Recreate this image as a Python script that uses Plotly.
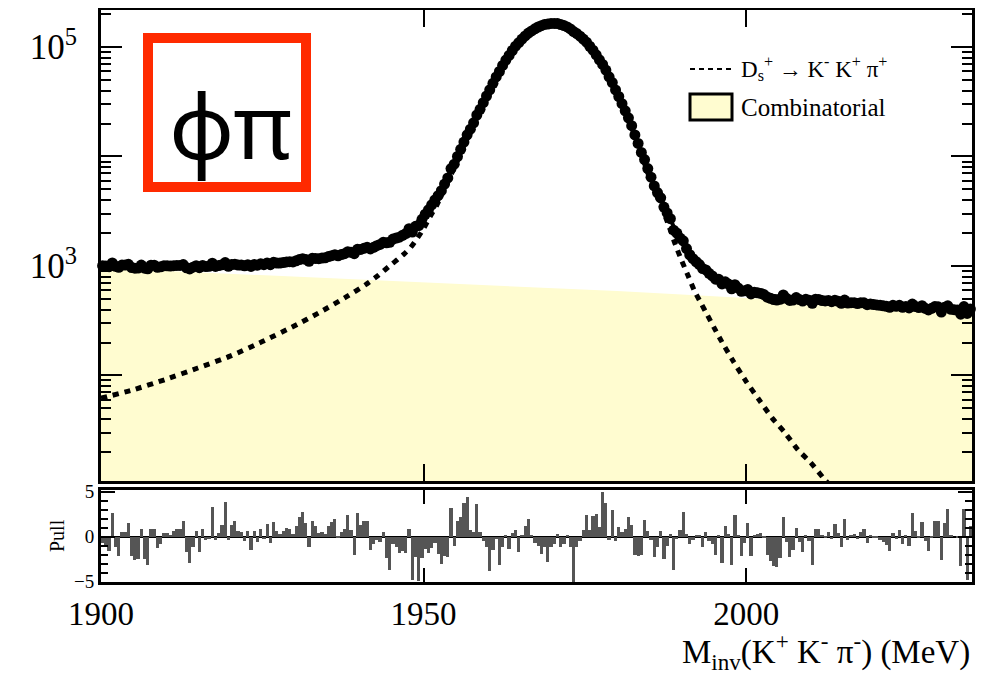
import plotly.graph_objects as go

# ---------------- data ----------------
bin_lo = 1900.0
bin_width = 0.5
n_bins = 270
bin_centers = [bin_lo + bin_width * (i + 0.5) for i in range(n_bins)]

data_counts = [
    1007, 1000, 986, 1066, 993, 972, 1020, 1019, 1036, 966,
    955, 956, 1019, 954, 941, 1016, 1016, 973, 982, 1004,
    1004, 999, 1006, 1012, 1012, 1029, 963, 940, 974, 1007,
    964, 1012, 989, 993, 1060, 991, 1008, 1025, 1075, 994,
    1029, 1038, 1019, 1020, 1003, 1027, 991, 1034, 1016, 1047,
    1028, 1065, 1028, 1079, 1063, 1064, 1075, 1090, 1094, 1090,
    1115, 1144, 1164, 1148, 1103, 1175, 1173, 1167, 1180, 1189,
    1220, 1243, 1266, 1237, 1270, 1294, 1349, 1333, 1296, 1420,
    1415, 1451, 1480, 1432, 1481, 1532, 1572, 1646, 1626, 1647,
    1760, 1798, 1832, 1908, 1976, 2189, 2039, 2305, 2340, 2668,
    2968, 3256, 3615, 4015, 4386, 4871, 5593, 6364, 7761, 8497,
    9999, 11625, 13535, 15783, 17743, 20281, 23930, 26982, 30992, 35683,
    40627, 46545, 53331, 59738,
    67890, 76030, 83690, 92920, 101720, 109440, 118170, 126230, 133930, 140270,
    146530, 152310, 156750, 160620, 162270, 164150, 164280, 163520, 160520, 157080,
    152640, 146140, 138230, 132660, 125520, 118140, 110800, 101620, 93500, 84830,
    76300, 69300, 61510, 53410, 47350, 40500, 35310, 30390, 26130, 22530,
    19130, 15750, 13160, 10890,
    9382, 7753, 6468, 5389, 4687, 4189, 3450, 3054, 2706, 2123,
    1997, 1799, 1696, 1441, 1266, 1166, 1093, 1031, 947, 920,
    857, 812, 758, 755, 686, 717, 684, 619, 674, 630,
    587, 593,
    609, 556, 576, 568, 561, 548, 520, 506, 494, 488,
    496, 543, 507, 484, 489, 514, 494, 478, 496, 487,
    456, 497, 494, 483, 479, 483, 472, 487, 475, 456,
    488, 459, 462, 462, 454, 461, 461, 443, 450, 444,
    441, 437, 433, 428, 419, 437, 428, 437, 419, 427,
    414, 449, 426, 417, 434, 410, 397, 410, 426, 424,
    379, 419, 433, 402, 399, 396, 363, 426, 369, 404,
]

pulls = [
    # 1900 - 1926
    -0.7, -1.0, -1.6, 2.6, -1.1, -2.1, 0.5, 0.5, 1.5, -2.1, -2.6, -2.5, 0.9,
    -2.5, -3.1, 0.9, 0.9, -1.3, -0.8, 0.4, 0.4, 0.2, 0.6, 0.9, 0.9, 1.8, -1.7,
    -2.9, -1.1, 0.6, -1.7, 0.8, -0.4, -0.3, 3.3, -0.4, 0.4, 1.3, 3.9, -0.4, 1.3,
    1.7, 0.6, 0.5, -0.5, 0.6, -1.5, 0.6, -0.6, 0.9, -0.3, 1.4,
    # 1926 - 1952.5
    -0.7, 1.6, 0.6, 0.3, 0.6, 1.0, 0.9, 0.3, 1.2, 2.2, 2.8, 1.5, -1.2, 1.8, 1.2,
    0.4, 0.5, 0.3, 1.2, 1.6, 2.0, -0.2, 0.5, 0.8, 2.4, 0.7, -2.0, 2.6, 1.3, 1.7,
    1.8, -1.5, -0.8, -0.4, -0.6, 0.5, -2.4, -3.7, -0.8, -1.2, -1.8, -1.6, -1.8,
    0.8, -4.8, -2.3, -4.9, -2.4, -1.4, -1.8, -1.3, -0.7, -1.9,
    # 1952.5 - 1980.5
    -3.0, -2.2, -2.3, 3.2, -1.0, 1.7, 2.2, 3.8, 4.4, 0.7, 0.5, 3.6, 0.5, -0.5,
    -1.2, -3.8, -1.5, -0.3, -3.1, -1.2, 0.1, -1.4, 0.4, 0.7, -1.7, 0.2, 1.2, 2.0,
    0.2, -0.7, -1.0, -1.9, -1.2, -2.8, -1.1, -0.8, 0.3, -1.2, -0.8, 0.1, -1.2,
    -5.0, -1.2, -0.5, 0.7, 2.4, 0.7, 2.3, 2.5, 1.1, 5.0, 3.7, -0.4, 3.0, -0.5, 1.1,
    # 1980.5 - 2008.5
    0.5, 0.8, 2.2, 1.3, -2.0, -2.1, -2.0, 1.9, 0.6, -0.4, -2.3, -1.2, 0.6, -2.5,
    -1.0, 0.3, -3.7, -0.3, 0.7, 2.8, 0.3, -0.8, -0.4, 0.1, 0.2, -1.2, 0.5, -0.5,
    -0.8, -2.0, 0.1, -2.9, 1.2, 0.3, -3.2, 2.4, 0.2, -2.1, -0.7, 1.5, -2.2, 0.2,
    0.3, 0.4, -0.1, -2.0, -2.7, -3.3, -3.4, -2.4, 2.2, -0.6, -2.3, -1.5, 1.0, -0.6,
    # 2008.5 - 2035
    -1.7, 0.2, -0.5, -3.1, 0.9, 0.8, 0.1, -0.1, 0.5, -0.3, 1.4, 0.4, -1.1, 2.0,
    -0.4, 0.1, 0.3, -0.3, 0.5, 0.8, -0.7, 0.2, -0.2, -0.2, -0.4, -0.6, -0.9, -1.6,
    0.4, -0.3, 0.7, -0.8, 0.2, -1.0, 2.6, 0.6, -0.1, 1.6, -0.5, -1.6, -0.1, 1.7,
    1.7, -2.6, 1.5, 3.1, 0.1, 0.0, -0.2, -3.3, 3.1, -4.8, 1.2,
]

fit_x = [1900, 1905, 1910, 1915, 1920, 1925, 1930, 1934, 1938, 1941, 1943, 1945,
         1946, 1947, 1948, 1949, 1950, 1951, 1952, 1953, 1954, 1955, 1956, 1957,
         1958, 1959, 1960, 1961, 1962, 1963, 1964, 1965, 1966, 1967, 1968, 1969,
         1970, 1971, 1972, 1973, 1974, 1975, 1976, 1977, 1978, 1979, 1980, 1981,
         1982, 1983, 1984, 1985, 1986, 1987, 1988, 1989, 1990, 1991, 1992, 1993,
         1994, 1995, 1996, 1998, 2000, 2002, 2004, 2006, 2008, 2010, 2012, 2014,
         2017, 2020, 2025, 2030, 2035]

fit_signal = [62, 74, 92, 117, 150, 204, 284, 380, 522, 674, 822, 1033,
              1150, 1290, 1480, 1780, 2190, 2820, 3550, 4700, 6300, 8500, 11500, 15700,
              21100, 28200, 38000, 49500, 63800, 79400, 96600, 113500, 129000, 143000, 155000, 162000,
              164400, 162000, 155000, 143000, 129000, 113500, 96600, 79400, 63800, 49500, 37200, 27500,
              20000, 14100, 9550, 6460, 4570, 3310, 2340, 1580, 1120, 813, 589, 457,
              355, 275, 214, 135, 88, 60, 41, 30, 21, 16, 11.5, 8.5,
              5.6, 3.8, 2.1, 1.2, 0.7]

fit_total = [1021, 1005, 996, 996, 1003, 1032, 1087, 1164, 1286, 1425, 1563, 1766,
             1879, 2014, 2200, 2496, 2901, 3527, 4253, 5398, 6994, 9190, 12185, 16382,
             21779, 28875, 38668, 50164, 64460, 80050, 97250, 114150, 129650, 143650, 155650, 162650,
             165030, 162630, 155630, 143630, 129620, 114120, 97210, 80010, 64400, 50100, 37790, 28090,
             20590, 14680, 10125, 7031, 5137, 3873, 2899, 2135, 1668, 1357, 1129, 993,
             887, 803, 738, 651, 595, 560, 534, 516, 501, 491, 481, 471,
             458, 444, 424, 406, 392]

comb_x = [1900, 1910, 1920, 1930, 1940, 1950, 1960, 1970, 1980, 1990, 2000, 2010, 2020, 2030, 2035]
comb_vals = [959, 904, 853, 803, 755, 711, 668, 628, 590, 548, 507, 475, 440, 405, 391]

x_tick_vals = [1900, 1950, 2000]
y_tick_vals = [10, 100, 1000, 10000, 100000]
y_tick_text = ["", "", "10<sup>3</sup>", "", "10<sup>5</sup>"]
pull_tick_vals = [-5, 0, 5]
pull_tick_text = ["\u22125", "0", "5"]

legend_signal = "D<sub>s</sub><sup>+</sup> \u2192 K<sup>-</sup> K<sup>+</sup> \u03c0<sup>+</sup>"
legend_comb = "Combinatorial"
x_title = "M<sub>inv</sub>(K<sup>+</sup> K<sup>-</sup> \u03c0<sup>-</sup>) (MeV)"
tag_text = "\u03c6\u03c0"

# ---------------- style / geometry ----------------
FONT = "Liberation Serif"
FILL = "#fffcd0"
RED = "#ff2a00"
OFF = 8                      # default page body margin
W, H = 998 - 2 * OFF, 683 - 2 * OFF
ML, MT, MB = 101 - OFF, 2, (683 - OFF) - 582
MR = W - (972 - OFF)
PW, PH = W - ML - MR, H - MT - MB


def px(xp):
    """reference-picture x pixel -> paper coordinate"""
    return (xp - OFF - ML) / PW


def py(yp):
    """reference-picture y pixel -> paper coordinate"""
    return (H - MB - (yp - OFF)) / PH


fig = go.Figure()

# combinatorial fill (polygon closed below the visible range)
fig.add_trace(go.Scatter(
    x=comb_x + comb_x[::-1],
    y=comb_vals + [1] * len(comb_x),
    fill="toself", fillcolor=FILL, mode="lines", line=dict(width=0),
    hoverinfo="skip", showlegend=False, xaxis="x", yaxis="y"))

# signal component (dotted)
fig.add_trace(go.Scatter(
    x=fit_x, y=fit_signal, mode="lines",
    line=dict(color="black", width=5, dash="6px,6px", shape="spline", smoothing=0.6),
    showlegend=False, xaxis="x", yaxis="y"))

# total fit
fig.add_trace(go.Scatter(
    x=fit_x, y=fit_total, mode="lines",
    line=dict(color="black", width=4, shape="spline", smoothing=0.6),
    showlegend=False, xaxis="x", yaxis="y"))

# data points
fig.add_trace(go.Scatter(
    x=bin_centers, y=data_counts, mode="markers",
    marker=dict(size=11, color="black"), cliponaxis=False,
    showlegend=False, xaxis="x", yaxis="y"))

# pulls
fig.add_trace(go.Bar(
    x=bin_centers, y=pulls, width=bin_width,
    marker=dict(color="#555555", line=dict(width=0)),
    showlegend=False, xaxis="x2", yaxis="y2"))

axis_common = dict(showline=True, linecolor="black", linewidth=3, mirror="allticks",
                   ticks="inside", tickcolor="black", showgrid=False, zeroline=False)

minor_log = [m * 10 ** e for e in range(1, 6) for m in range(2, 10)]

fig.update_layout(
    width=W, height=H,
    margin=dict(l=ML, r=MR, t=MT, b=MB, autoexpand=False),
    paper_bgcolor="white", plot_bgcolor="white",
    font=dict(family=FONT, color="black"),
    showlegend=False, bargap=0,
    xaxis=dict(domain=[0, 1], range=[1900, 2035], anchor="y",
               tickvals=x_tick_vals, ticklen=17, tickwidth=2,
               showticklabels=False, **axis_common),
    xaxis2=dict(domain=[0, 1], range=[1900, 2035], anchor="y2", matches="x",
                tickvals=x_tick_vals, ticklen=14, tickwidth=2,
                showticklabels=True, tickfont=dict(size=33, family=FONT), **axis_common),
    yaxis=dict(domain=[py(481), 1], type="log", range=[1.036, 5.338], anchor="x",
               tickvals=y_tick_vals, ticktext=y_tick_text, ticklen=21, tickwidth=2,
               tickfont=dict(size=35, family=FONT), ticklabelstandoff=14,
               minor=dict(tickvals=minor_log, ticklen=10, tickwidth=2,
                          ticks="inside", tickcolor="black", showgrid=False),
               **axis_common),
    yaxis2=dict(domain=[0, py(490)], range=[-5.05, 5.2], anchor="x2",
                tickvals=pull_tick_vals, ticktext=pull_tick_text, ticklen=14, tickwidth=2,
                tickfont=dict(size=19, family=FONT),
                minor=dict(tickvals=[-4, -3, -2, -1, 1, 2, 3, 4], ticklen=7, tickwidth=2,
                           ticks="inside", tickcolor="black", showgrid=False),
                showline=True, linecolor="black", linewidth=3, mirror="allticks",
                ticks="inside", tickcolor="black", showgrid=False,
                zeroline=True, zerolinecolor="black", zerolinewidth=2),
)

shapes = [
    # phi-pi tag frame
    dict(type="rect", xref="paper", yref="paper",
         x0=px(148), x1=px(306), y0=py(187), y1=py(38),
         line=dict(color=RED, width=10), fillcolor="rgba(0,0,0,0)"),
    # legend: dashed sample
    dict(type="line", xref="paper", yref="paper",
         x0=px(690), x1=px(733), y0=py(69), y1=py(69),
         line=dict(color="black", width=2, dash="5px,4px")),
    # legend: filled box
    dict(type="rect", xref="paper", yref="paper",
         x0=px(690), x1=px(732), y0=py(120), y1=py(94),
         line=dict(color="black", width=3), fillcolor=FILL),
]
fig.update_layout(shapes=shapes)

annotations = [
    dict(text=tag_text, x=px(230), y=py(124), xref="paper", yref="paper",
         showarrow=False, font=dict(family="Noto Sans", size=90, color="black"),
         xanchor="center", yanchor="middle"),
    dict(text=legend_signal, x=px(739), y=py(69), xref="paper", yref="paper",
         showarrow=False, font=dict(family=FONT, size=23), xanchor="left", yanchor="middle"),
    dict(text=legend_comb, x=px(739), y=py(107), xref="paper", yref="paper",
         showarrow=False, font=dict(family=FONT, size=25), xanchor="left", yanchor="middle"),
    dict(text="Pull", x=px(57), y=py(536), xref="paper", yref="paper", textangle=-90,
         showarrow=False, font=dict(family=FONT, size=20), xanchor="center", yanchor="middle"),
    dict(text=x_title, x=px(972), y=py(651), xref="paper", yref="paper",
         showarrow=False, font=dict(family=FONT, size=33), xanchor="right", yanchor="middle"),
]
fig.update_layout(annotations=annotations)

fig.write_html("out.html")
